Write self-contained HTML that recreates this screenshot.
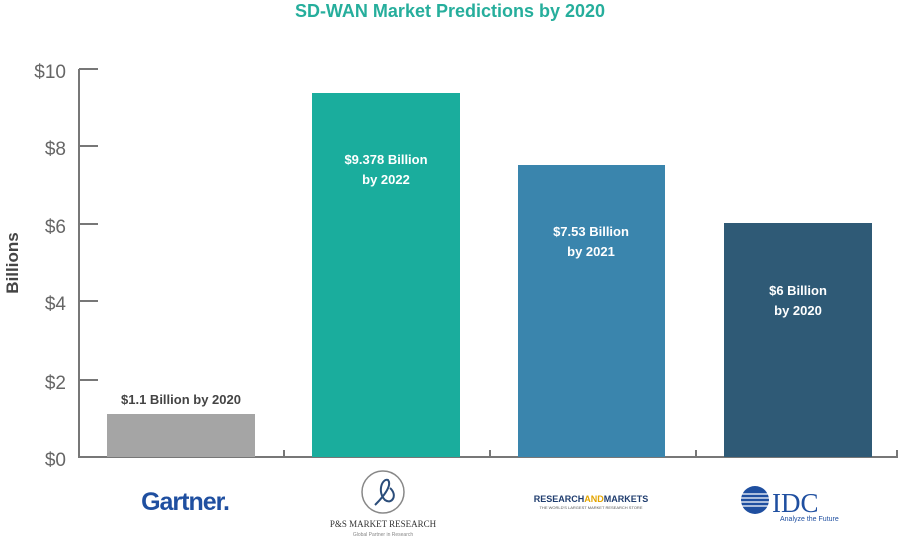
<!DOCTYPE html>
<html><head><meta charset="utf-8"><style>
body{margin:0;background:#fff;width:900px;height:547px;overflow:hidden;font-family:"Liberation Sans",sans-serif}
</style></head><body>
<svg width="900" height="547" xmlns="http://www.w3.org/2000/svg" font-family="Liberation Sans, sans-serif">
<text x="450" y="17" text-anchor="middle" font-size="18" font-weight="bold" fill="#26ae9c">SD-WAN Market Predictions by 2020</text>
<g stroke="#777" stroke-width="2" fill="none">
<path d="M79 69V457H897V450"/>
<path d="M79 69H98M79 146H98M79 224H98M79 301H98M79 380H98"/>
<path d="M284 457V450M490 457V450M696 457V450"/>
</g>
<g font-size="19" fill="#666" text-anchor="end">
<text x="66" y="78">$10</text><text x="66" y="155">$8</text><text x="66" y="233">$6</text>
<text x="66" y="310">$4</text><text x="66" y="389">$2</text><text x="66" y="466">$0</text>
</g>
<text transform="translate(18 263) rotate(-90)" text-anchor="middle" font-size="17" font-weight="bold" fill="#444">Billions</text>
<rect x="107" y="414" width="148" height="43" fill="#a5a5a5"/>
<rect x="312" y="93" width="148" height="364" fill="#1aad9d"/>
<rect x="518" y="165" width="147" height="292" fill="#3a85ad"/>
<rect x="724" y="223" width="148" height="234" fill="#2f5a76"/>
<g font-size="13" font-weight="bold" text-anchor="middle">
<text x="181" y="404" fill="#444">$1.1 Billion by 2020</text>
<text x="386" y="164" fill="#fff">$9.378 Billion</text><text x="386" y="184" fill="#fff">by 2022</text>
<text x="591" y="236" fill="#fff">$7.53 Billion</text><text x="591" y="256" fill="#fff">by 2021</text>
<text x="798" y="295" fill="#fff">$6 Billion</text><text x="798" y="315" fill="#fff">by 2020</text>
</g>
<text x="185" y="510" text-anchor="middle" font-size="25" font-weight="bold" fill="#1f4fa0" letter-spacing="-1">Gartner.</text>
<circle cx="383" cy="492" r="21" fill="none" stroke="#888" stroke-width="1.5"/>
<path d="M375 505C385 495 392 485 388 480C382 478 377 492 385 500C392 505 398 495 390 488" fill="none" stroke="#2b4d7a" stroke-width="2"/>
<text x="383" y="527" text-anchor="middle" font-size="9" font-family="Liberation Serif, serif" fill="#333">P&amp;S MARKET RESEARCH</text>
<text x="383" y="536" text-anchor="middle" font-size="5" fill="#888">Global Partner in Research</text>
<text x="591" y="502" text-anchor="middle" font-size="9" font-weight="bold" fill="#1f3c6e">RESEARCH<tspan fill="#e3a400">AND</tspan>MARKETS</text>
<text x="591" y="509" text-anchor="middle" font-size="4" fill="#555">THE WORLD'S LARGEST MARKET RESEARCH STORE</text>
<circle cx="755" cy="500" r="14" fill="#1f4fa0"/>
<g stroke="#fff" stroke-width="1.2"><path d="M740 494H770M740 498H770M740 502H770M740 506H770"/></g>
<text x="772" y="512" font-size="27" font-family="Liberation Serif, serif" fill="#1f4fa0">IDC</text>
<text x="780" y="521" font-size="7" fill="#1f4fa0">Analyze the Future</text>
</svg>
</body></html>
